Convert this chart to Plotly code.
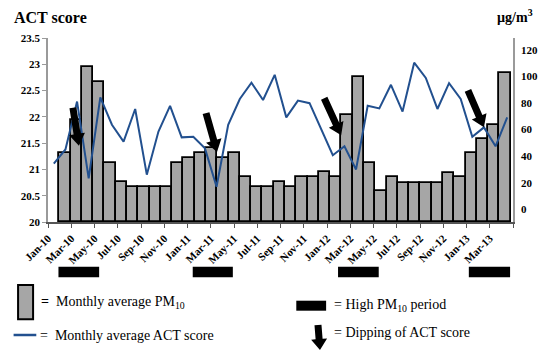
import math
import plotly.graph_objects as go

# ---------------- data ----------------
months = ["Jan-10", "Feb-10", "Mar-10", "Apr-10", "May-10", "Jun-10", "Jul-10", "Aug-10",
          "Sep-10", "Oct-10", "Nov-10", "Dec-10", "Jan-11", "Feb-11", "Mar-11", "Apr-11",
          "May-11", "Jun-11", "Jul-11", "Aug-11", "Sep-11", "Oct-11", "Nov-11", "Dec-11",
          "Jan-12", "Feb-12", "Mar-12", "Apr-12", "May-12", "Jun-12", "Jul-12", "Aug-12",
          "Sep-12", "Oct-12", "Nov-12", "Dec-12", "Jan-13", "Feb-13", "Mar-13", "Apr-13"]

act_score = [21.11, 21.38, 22.29, 20.83, 22.37, 21.85, 21.53, 22.15, 20.90, 21.72,
             22.21, 21.61, 21.62, 21.40, 20.67, 21.85, 22.34, 22.65, 22.32, 22.80,
             21.99, 22.31, 22.26, 21.77, 21.27, 21.44, 21.00, 22.21, 22.16, 22.61,
             22.10, 23.03, 22.74, 22.15, 22.64, 22.34, 21.62, 21.80, 21.44, 21.99]

pm10 = [42.2, 67.3, 107.0, 95.7, 34.7, 20.8, 17.0, 17.0, 17.0, 17.0,
        34.7, 38.4, 42.2, 46.0, 38.4, 42.2, 24.6, 17.0, 17.0, 20.8,
        17.0, 24.6, 24.6, 27.9, 24.6, 71.0, 99.4, 35.1, 13.8, 24.6,
        20.0, 20.0, 20.0, 20.0, 27.6, 24.6, 42.2, 52.7, 63.5, 102.4]

tick_labels = months[0::2]          # Jan-10, Mar-10, ... Mar-13

# high-PM10 periods (month positions on the time axis)
high_start = [0.40, 11.95, 24.45, 35.70]
high_end = [3.90, 15.40, 27.95, 39.25]

# dips of the ACT score marked by arrows (tip position: month position, ACT score)
dip_x = [2.16, 14.04, 24.72, 37.00]
dip_y = [21.45, 21.33, 21.65, 21.80]
dip_dx = [-6, -11, -17, -16]
dip_dy = [-38, -39, -37, -37]

# ---------------- layout constants ----------------
PAGE_OFF = 8                      # default body margin of the html page
W, H = 550 - PAGE_OFF, 351 - PAGE_OFF
ML, MR, MT, MB = 48 - PAGE_OFF, 25, 38 - PAGE_OFF, 129
PW, PH = W - ML - MR, H - MT - MB
PLOT_LEFT, PLOT_BOTTOM = 48, 222  # page pixel positions of the plot area
Y2_MIN, Y2_MAX = -9.57, 129.0
BAR_RANGE = [-1.503, 39.71]
SERIF = "Liberation Serif"
BAR_GRAY = "#a6a6a6"
LINE_BLUE = "#22508f"


def pxx(x):
    return (x - PLOT_LEFT) / PW


def pxy(y):
    return (PLOT_BOTTOM - y) / PH


def arrow_path(dx, dy, shaft=7.0, head_w=16.0, head_l=12.0):
    """Block arrow polygon, tip at (0,0), tail at screen offset (dx, dy); y returned upward."""
    L = math.hypot(dx, dy)
    ux, uy = -dx / L, -dy / L
    nx, ny = -uy, ux
    tx, ty = dx, dy
    kx, ky = -ux * head_l, -uy * head_l
    pts = [
        (tx + nx * shaft / 2, ty + ny * shaft / 2),
        (kx + nx * shaft / 2, ky + ny * shaft / 2),
        (kx + nx * head_w / 2, ky + ny * head_w / 2),
        (0, 0),
        (kx - nx * head_w / 2, ky - ny * head_w / 2),
        (kx - nx * shaft / 2, ky - ny * shaft / 2),
        (tx - nx * shaft / 2, ty - ny * shaft / 2),
    ]
    return "M" + " L".join(f"{x:.2f},{-y:.2f}" for x, y in pts) + " Z"


idx = list(range(len(months)))

fig = go.Figure()

fig.add_trace(go.Bar(
    x=idx, y=[v - Y2_MIN for v in pm10], base=Y2_MIN,
    customdata=pm10, hovertemplate="%{customdata}<extra></extra>",
    width=1.0, marker=dict(color=BAR_GRAY, line=dict(color="black", width=1.8)),
    xaxis="x", yaxis="y", showlegend=False, name="Monthly average PM10"))

fig.add_trace(go.Scatter(
    x=idx, y=act_score, mode="lines", line=dict(color=LINE_BLUE, width=2),
    xaxis="x2", yaxis="y2", showlegend=False, name="Monthly average ACT score"))

tickfont = dict(family=SERIF, size=11, color="black", weight="bold")

fig.update_layout(
    width=W, height=H, margin=dict(l=ML, r=MR, t=MT, b=MB),
    paper_bgcolor="white", plot_bgcolor="rgba(0,0,0,0)",
    font=dict(family=SERIF),
    bargap=0,
    xaxis=dict(range=BAR_RANGE, visible=False),
    yaxis=dict(side="right", range=[Y2_MIN, Y2_MAX], tickvals=[0, 20, 40, 60, 80, 100, 120],
               showgrid=False, zeroline=False, showline=True, linecolor="#9a9a9a", linewidth=1.5,
               ticks="outside", ticklen=4, tickcolor="rgba(0,0,0,0)", tickfont=tickfont),
    xaxis2=dict(overlaying="x", anchor="y2", range=[-0.5, 39.5],
                tickmode="array", tickvals=[-0.5 + 2 * k for k in range(len(tick_labels))],
                ticktext=tick_labels, tickangle=-45,
                minor=dict(tickmode="array", tickvals=[39.5], ticks="outside", ticklen=4,
                           tickcolor="#555555", showgrid=False),
                showgrid=False, zeroline=False, showline=True, linecolor="#555555", linewidth=1.5,
                ticks="outside", ticklen=4, tickcolor="#555555", tickfont=tickfont),
    yaxis2=dict(overlaying="y", side="left", anchor="x2", range=[20, 23.5], dtick=0.5,
                showgrid=False, zeroline=False, showline=True, linecolor="#9a9a9a", linewidth=1.5,
                ticks="outside", ticklen=4, tickcolor="#9a9a9a", tickfont=tickfont),
)

shapes = []
for s, e in zip(high_start, high_end):
    shapes.append(dict(type="rect", xref="x2", yref="paper", x0=s, x1=e,
                       y0=pxy(277.3), y1=pxy(266.7), fillcolor="black", line=dict(width=0)))
for x, y, dx, dy in zip(dip_x, dip_y, dip_dx, dip_dy):
    shapes.append(dict(type="path", xref="x2", yref="y2", xsizemode="pixel", ysizemode="pixel",
                       xanchor=x, yanchor=y, path=arrow_path(dx, dy),
                       fillcolor="black", line=dict(width=0), layer="above"))
# custom legend symbols
shapes.append(dict(type="rect", xref="paper", yref="paper", x0=pxx(17.3), x1=pxx(32.7),
                   y0=pxy(319.3), y1=pxy(285), fillcolor=BAR_GRAY, line=dict(color="black", width=2)))
shapes.append(dict(type="line", xref="paper", yref="paper", x0=pxx(12.7), x1=pxx(36),
                   y0=pxy(335), y1=pxy(335), line=dict(color=LINE_BLUE, width=2.5)))
shapes.append(dict(type="rect", xref="paper", yref="paper", x0=pxx(302.7), x1=pxx(333.3),
                   y0=pxy(310.7), y1=pxy(300.7), fillcolor="black", line=dict(width=0)))
shapes.append(dict(type="path", xref="paper", yref="paper", xsizemode="pixel", ysizemode="pixel",
                   xanchor=pxx(327), yanchor=pxy(350), path=arrow_path(-2, -25, head_l=11),
                   fillcolor="black", line=dict(width=0)))
fig.update_layout(shapes=shapes)

lf = dict(family=SERIF, size=14, color="black")
nb = "\u00a0"


def label(xp, yp, text, font=lf):
    return dict(x=pxx(xp), y=pxy(yp), xref="paper", yref="paper", text=text,
                showarrow=False, xanchor="left", yanchor="middle", font=font)


ann = [
    label(39, 302, "<b>=</b>" + nb * 2 + "Monthly average PM<sub>10</sub>"),
    label(38, 335, "=" + nb * 2 + "Monthly average ACT score"),
    label(339, 305, "=" + nb + "High PM<sub>10</sub> period"),
    label(339, 332, "=" + nb + "Dipping of ACT score"),
    label(11, 17.5, "ACT score", dict(family=SERIF, size=16, color="black", weight="bold")),
    label(507, 16.5, "µg/m<sup>3</sup>", dict(family=SERIF, size=14, color="black", weight="bold")),
]
fig.update_layout(annotations=ann)

fig.write_html("out.html")
